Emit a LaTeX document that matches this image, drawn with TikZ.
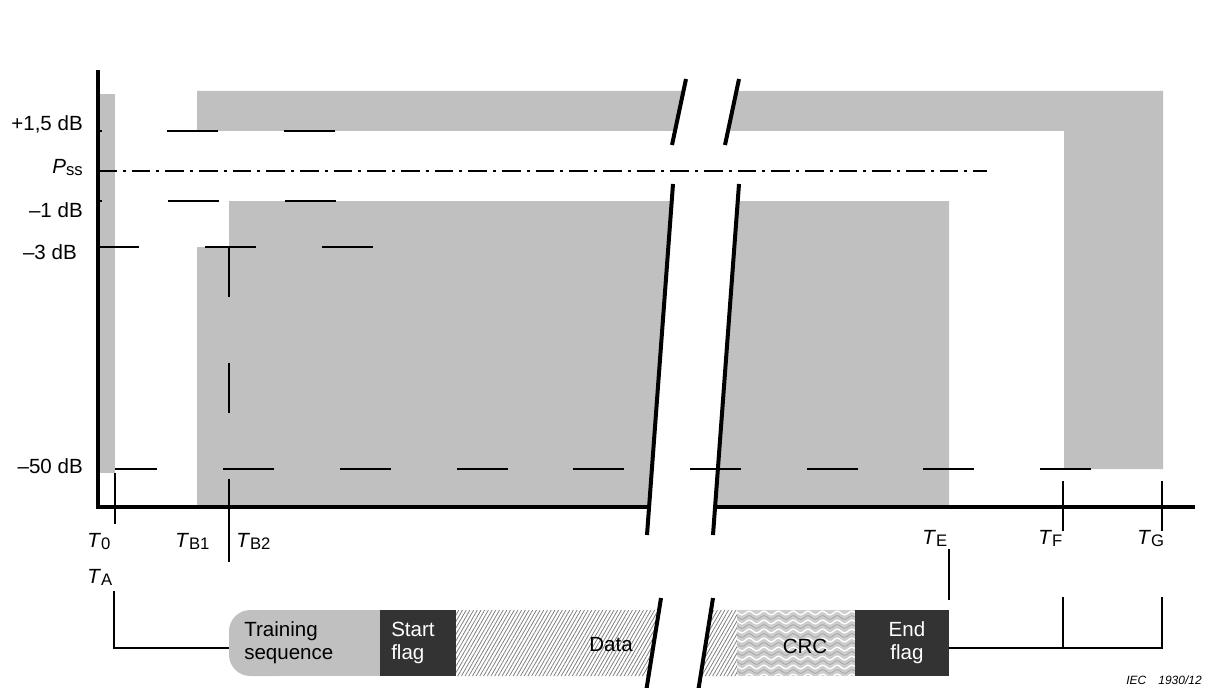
\documentclass[tikz,border=0pt]{standalone}
\usepackage{fontspec}
\setmainfont{Liberation Sans}
\usetikzlibrary{patterns.meta,decorations.pathmorphing}
\definecolor{maskgray}{RGB}{192,192,192}
\definecolor{flagdark}{RGB}{51,51,51}
\definecolor{crcgray}{RGB}{205,205,205}
\newcommand{\sub}[1]{\raisebox{-2pt}{\fontsize{12.5}{13}\selectfont #1}}

\begin{document}
\begin{tikzpicture}[x=0.75pt,y=-0.75pt,font=\fontsize{15.4}{17.5}\selectfont]
  \tikzset{mask/.style={fill=maskgray},
    axis/.style={line width=2.7pt},
    limit/.style={line width=1.5pt},
    breakmark/.style={line width=3pt},
    tick/.style={line width=1.5pt},
    psslevel/.style={line width=1.5pt, dash pattern=on 14pt off 4.5pt on 2.25pt off 4.5pt},
    ylbl/.style={inner sep=0pt, anchor=base east},
    tlbl/.style={inner sep=0pt, anchor=base west}}
  \useasboundingbox (0,0) rectangle (1205,688);
  % masks
  \fill[mask] (98,94) rectangle (115,473);
  \fill[mask] (197,91) -- (683.5,91) -- (675,131) -- (197,131) -- cycle;
  \fill[mask] (736.5,91) -- (1163,91) -- (1163,469) -- (1064,469) -- (1064,131) -- (728,131) -- cycle;
  \fill[mask] (197,507) -- (197,247) -- (229,247) -- (229,201) -- (671.7,201) -- (649,507) -- cycle;
  \fill[mask] (737.7,201) -- (949,201) -- (949,507) -- (715,507) -- cycle;
  % levels
  \foreach \x in {167,284} \draw[limit] (\x,131) -- ++(51,0);
  \foreach \x in {168,285} \draw[limit] (\x,201) -- ++(51,0);
  \draw[limit] (98,247) -- (139,247);
  \foreach \x in {205,322} \draw[limit] (\x,247) -- ++(51,0);
  \draw[limit] (115,469) -- (157,469);
  \foreach \x in {223,340,457,573,690,807,923,1040} \draw[limit] (\x,469) -- ++(51,0);
  \draw[psslevel] (98,171) -- (987,171);
  \draw[tick] (98,131) -- (102,131);
  \draw[tick] (98,201) -- (102,201);
  % axes
  \draw[axis] (98,70) -- (98,507) -- (647,507);
  \draw[axis] (717,507) -- (1195,507);
  % time marks
  \draw[tick] (229,247) -- (229,297);
  \draw[tick] (229,363) -- (229,413);
  \draw[tick] (229,479) -- (229,562);
  \draw[tick] (115,473) -- (115,524);
  \draw[tick] (1063,481) -- (1063,531);
  \draw[tick] (1162,481) -- (1162,531);
  \draw[tick] (949,549) -- (949,600);
  % axis labels
  \node[ylbl] (p15) at (83,131) {+1,5 dB};
  \node[ylbl] (pss) at (83,173) {\textit{P}\sub{ss}};
  \node[ylbl] (m1) at (83,217) {–1 dB};
  \node[ylbl] (m3) at (77,259) {–3 dB};
  \node[ylbl] (m50) at (83,473) {–50 dB};
  \node[tlbl] (t0) at (87,547) {\textit{T}\sub{0}};
  \node[tlbl] (tA) at (87,583) {\textit{T}\sub{A}};
  \node[tlbl] (tB1) at (175,547) {\textit{T}\sub{B1}};
  \node[tlbl] (tB2) at (236,547) {\textit{T}\sub{B2}};
  \node[tlbl] (tE) at (922,544) {\textit{T}\sub{E}};
  \node[tlbl] (tF) at (1038,544) {\textit{T}\sub{F}};
  \node[tlbl] (tG) at (1137,544) {\textit{T}\sub{G}};
  % frame
  \fill[mask, rounded corners=16pt] (229,610) rectangle (300,676);
  \fill[mask] (260,610) rectangle (380,676);
  \fill[flagdark] (380,610) rectangle (456,676);
  \fill[pattern={Lines[angle=60,distance=2.4pt,line width=0.6pt]}, pattern color=gray]
    (456,610) -- (659,610) -- (649,676) -- (456,676) -- cycle;
  \fill[pattern={Lines[angle=60,distance=2.4pt,line width=0.6pt]}, pattern color=gray]
    (711,610) -- (737,610) -- (737,676) -- (701,676) -- cycle;
  \fill[crcgray] (737,610) rectangle (855,676);
  \begin{scope}
    \clip (737,610) rectangle (855,676);
    \foreach \y in {613,622,...,676}
      \draw[white, line width=1pt, decorate, decoration={snake, amplitude=1.4pt, segment length=11pt}] (730,\y) -- (862,\y);
    \foreach \y in {617.5,626.5,...,676}
      \draw[gray!70, line width=0.6pt, decorate, decoration={snake, amplitude=1.4pt, segment length=11pt}] (730,\y) -- (862,\y);
  \end{scope}
  \fill[flagdark] (855,610) rectangle (949,676);
  \node[inner sep=0pt, anchor=west, align=left] (train) at (244,643) {Training\\sequence};
  \node[inner sep=0pt, anchor=west, align=left, text=white] (start) at (391,643) {Start\\flag};
  \node[inner sep=0pt] (data) at (611,645) {Data};
  \node[inner sep=0pt] (crc) at (805,646) {CRC};
  \node[inner sep=0pt, align=center, text=white] (end) at (907,643) {End\\flag};
  \coordinate (ta) at (114,591);
  \coordinate (trainw) at (229,648);
  \coordinate (endr) at (949,648);
  \coordinate (tf) at (1063,597);
  \coordinate (tg) at (1162,597);
  \draw[tick] (ta) |- (trainw);
  \draw[tick] (endr) -| (tg);
  \draw[tick] (tf) -- (tf |- endr);
  % breaks
  \draw[breakmark] (686,79) -- (672,145);
  \draw[breakmark] (739,79) -- (725,145);
  \draw[breakmark] (673,184) -- (647,535);
  \draw[breakmark] (739,184) -- (713,535);
  \draw[breakmark] (661,598) -- (646,692);
  \draw[breakmark] (713,598) -- (698,692);
  \node[inner sep=0pt, anchor=base east, font=\fontsize{9}{10}\selectfont\itshape] (iec) at (1202,684) {IEC\hspace{9pt}1930/12};
\end{tikzpicture}
\end{document}
